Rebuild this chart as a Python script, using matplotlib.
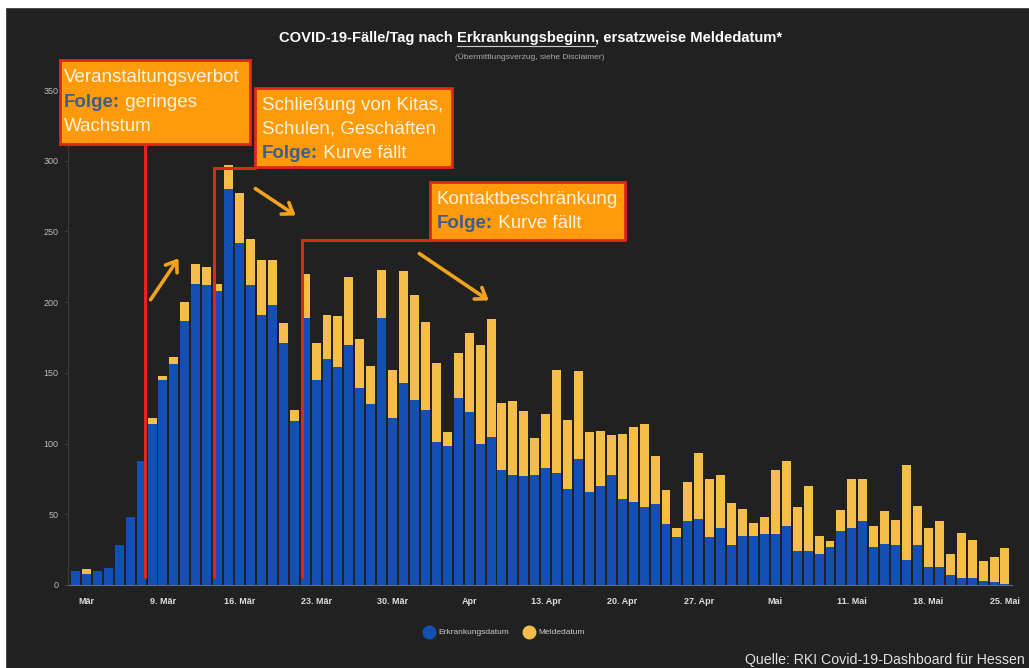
import numpy as np
import matplotlib
matplotlib.use("Agg")
import matplotlib.pyplot as plt
import pandas as pd
from matplotlib.patches import Rectangle
from matplotlib.lines import Line2D

W, H = 1029, 668

# daily cases in Hessen, 1 Mar - 25 Mai
tage = pd.date_range("2020-03-01", "2020-05-25", freq="D")
erkrankung = [10, 8, 10, 12, 28, 48, 88, 114, 145, 156,
              187, 213, 212, 208, 280, 242, 212, 191, 198, 171,
              116, 189, 145, 160, 154, 170, 139, 128, 189, 118,
              143, 131, 124, 101, 98, 132, 122, 100, 105, 81,
              78, 77, 78, 83, 79, 68, 89, 66, 70, 78,
              61, 59, 55, 57, 43, 34, 45, 47, 34, 40,
              28, 35, 35, 36, 36, 42, 24, 24, 22, 27,
              38, 40, 45, 27, 29, 28, 18, 28, 13, 13,
              7, 5, 5, 3, 2, 1]
melde = [0, 3, 0, 0, 0, 0, 0, 4, 3, 5,
         13, 14, 13, 5, 17, 35, 33, 39, 32, 14,
         8, 31, 26, 31, 36, 48, 35, 27, 34, 34,
         79, 74, 62, 56, 10, 32, 56, 70, 83, 48,
         52, 46, 26, 38, 73, 49, 62, 42, 39, 28,
         46, 53, 59, 34, 24, 6, 28, 46, 41, 38,
         30, 19, 9, 12, 45, 46, 31, 46, 13, 4,
         15, 35, 30, 15, 23, 18, 67, 28, 27, 32,
         15, 32, 27, 14, 18, 25]

tick_tage = ["2020-03-02", "2020-03-09", "2020-03-16", "2020-03-23", "2020-03-30",
             "2020-04-06", "2020-04-13", "2020-04-20", "2020-04-27", "2020-05-04",
             "2020-05-11", "2020-05-18", "2020-05-25"]
tick_labels = ["Mär", "9. Mär", "16. Mär", "23. Mär", "30. Mär", "Apr", "13. Apr",
               "20. Apr", "27. Apr", "Mai", "11. Mai", "18. Mai", "25. Mai"]
y_ticks = [0, 50, 100, 150, 200, 250, 300, 350]

blau = "#1450b4"
gelb = "#f4be48"
orange = "#ff9a0a"
rot = "#e3261c"
folge_col = "#3d5d8a"
bg = "#212121"
font = "Liberation Sans"


def fx(x):
    return x / W


def fy(y):
    return 1 - y / H


fig = plt.figure(figsize=(W / 100, H / 100), dpi=100, facecolor=bg)
ax = fig.add_axes([fx(68), fy(585), (1012 - 68) / W, (585 - 90) / H])
ax.set_facecolor(bg)

x = np.arange(len(tage))
ax.bar(x, erkrankung, width=0.82, color=blau, zorder=2)
ax.bar(x, melde, bottom=erkrankung, width=0.82, color=gelb, zorder=2)

ax.set_xlim((68 - 75.5) / 10.935, (1012 - 75.5) / 10.935)
ax.set_ylim(0, 350)
pos = [(pd.Timestamp(t) - tage[0]).days for t in tick_tage]
ax.set_xticks(pos)
ax.set_xticklabels(tick_labels, color="#dddddd", fontsize=6.5, fontweight="bold", family=font)
ax.set_yticks(y_ticks)
ax.set_yticklabels([str(v) for v in y_ticks], color="#bbbbbb", fontsize=6.5, family=font)
ax.tick_params(axis="x", length=0, pad=9)
ax.tick_params(axis="y", length=3, color="#3a3a3a", pad=4)
for s in ["top", "right"]:
    ax.spines[s].set_visible(False)
ax.spines["left"].set_color("#3a3a3a")
ax.spines["bottom"].set_color("#5a6a80")

# white page edge
fig.add_artist(Rectangle((0, fy(7)), 1, 7 / H, transform=fig.transFigure, color="white", zorder=0))
fig.add_artist(Rectangle((0, 0), 5 / W, 1, transform=fig.transFigure, color="white", zorder=0))

r = fig.canvas.get_renderer()


def parts_text(x0, y0, parts, size):
    # y0 is the baseline in pixels from the top
    for txt, col, wt in parts:
        t = fig.text(fx(x0), fy(y0), txt, color=col, fontsize=size, fontweight=wt,
                     va="baseline", ha="left", family=font, zorder=6)
        x0 += t.get_window_extent(renderer=r).width
    return x0


def breite(txt, size, wt):
    t = fig.text(0, 0, txt, fontsize=size, fontweight=wt, family=font)
    w = t.get_window_extent(renderer=r).width
    t.remove()
    return w


# title with underlined word
ts = 10.6
titel = [("COVID-19-Fälle/Tag nach ", "white", "bold"),
         ("Erkrankungsbeginn", "white", "bold"),
         (", ersatzweise Meldedatum*", "white", "bold")]
tw = breite("".join(p[0] for p in titel), ts, "bold")
x0 = 531 - tw / 2
u1 = x0 + breite(titel[0][0], ts, "bold")
u2 = u1 + breite(titel[1][0], ts, "bold")
parts_text(x0, 42, titel, ts)
fig.add_artist(Line2D([fx(u1), fx(u2)], [fy(45.5), fy(45.5)], color="#cccccc", lw=0.8,
                      transform=fig.transFigure))
fig.text(fx(530), fy(57), "(Übermittlungsverzug, siehe Disclaimer)", color="#aaaaaa",
         fontsize=6, ha="center", va="center", family=font)

# red marker lines
rl = dict(color=rot, lw=2.2, transform=fig.transFigure, zorder=4, solid_capstyle="butt")
fig.add_artist(Line2D([fx(145), fx(145)], [fy(144), fy(578)], **rl))
fig.add_artist(Line2D([fx(214), fx(214), fx(256)], [fy(578), fy(168), fy(168)], **rl))
fig.add_artist(Line2D([fx(302), fx(302), fx(430)], [fy(578), fy(240), fy(240)], **rl))

# annotation boxes
boxen = [(60, 60, 250, 144), (255, 88, 452, 167), (430, 182, 625, 240)]
for (x1, y1, x2, y2) in boxen:
    fig.add_artist(Rectangle((fx(x1), fy(y2)), (x2 - x1) / W, (y2 - y1) / H,
                             transform=fig.transFigure, facecolor=orange,
                             edgecolor=rot, lw=2, zorder=5))

hell = "#fff3dc"
fs = 13.5
d = 4
parts_text(64, 78 + d, [("Veranstaltungsverbot", hell, "normal")], fs)
parts_text(64, 103 + d, [("Folge:", folge_col, "bold"), (" geringes", hell, "normal")], fs)
parts_text(64, 127 + d, [("Wachstum", hell, "normal")], fs)
parts_text(262, 106 + d, [("Schließung von Kitas,", hell, "normal")], fs)
parts_text(262, 130 + d, [("Schulen, Geschäften", hell, "normal")], fs)
parts_text(262, 154 + d, [("Folge:", folge_col, "bold"), (" Kurve fällt", hell, "normal")], fs)
parts_text(437, 200 + d, [("Kontaktbeschränkung", hell, "normal")], fs)
parts_text(437, 224 + d, [("Folge:", folge_col, "bold"), (" Kurve fällt", hell, "normal")], fs)

# arrows
for (a, b) in [((149, 302), (180, 256)), ((253, 187), (298, 217)), ((417, 252), (491, 302))]:
    fig.add_artist(matplotlib.patches.FancyArrowPatch(
        (fx(a[0]), fy(a[1])), (fx(b[0]), fy(b[1])), transform=fig.transFigure,
        arrowstyle="->,head_length=7,head_width=5", color="#f2a31e", lw=2.6,
        mutation_scale=1, zorder=5))

# legend
for (lx, col, txt) in [(429, blau, "Erkrankungsdatum"), (529, gelb, "Meldedatum")]:
    fig.add_artist(Line2D([fx(lx)], [fy(632)], marker="o", ms=9, color=col,
                          transform=fig.transFigure))
    fig.text(fx(lx + 9), fy(632), txt, color="#cccccc", fontsize=6, va="center",
             ha="left", family=font)

fig.text(fx(1025), fy(660), "Quelle: RKI Covid-19-Dashboard für Hessen", color="#e0e0e0",
         fontsize=10.2, ha="right", va="center", family=font)

fig.savefig("out.png", dpi=100, facecolor=bg)
